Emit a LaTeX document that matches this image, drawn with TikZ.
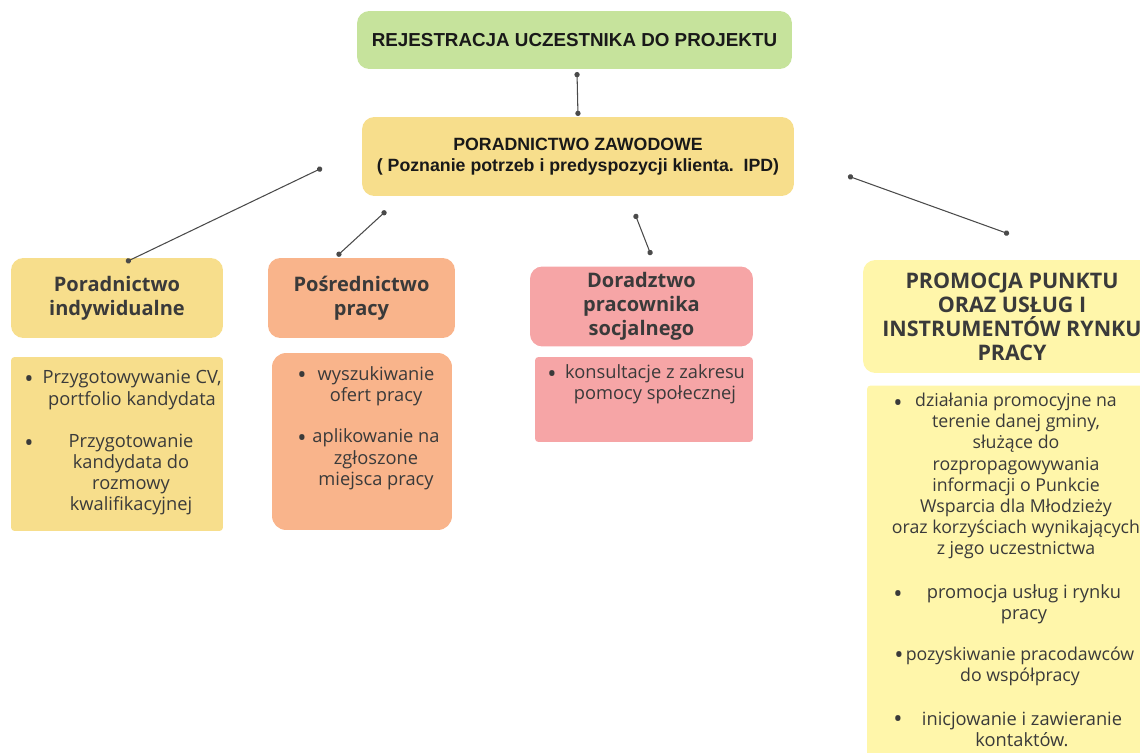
\documentclass[tikz,border=0pt]{standalone}
\usepackage{fontspec}
\setmainfont{Open Sans}
\newfontfamily\headfont{Liberation Sans}
\usetikzlibrary{positioning,arrows.meta}
\definecolor{regGreen}{HTML}{C6E39C}
\definecolor{zawYellow}{HTML}{F7DE8C}
\definecolor{posOrange}{HTML}{F9B48B}
\definecolor{dorPink}{HTML}{F6A5A6}
\definecolor{proYellow}{HTML}{FFF6AA}
\definecolor{txtGray}{HTML}{3A3A3A}
\definecolor{lineGray}{HTML}{4A4A4A}

\begin{document}
\begin{tikzpicture}[x=0.02cm, y=-0.02cm]
		\tikzstyle{top}=[rectangle, rounded corners=7pt, inner sep=0pt, align=center, text=black!90, font=\headfont\bfseries\fontsize{10.1}{11.9}\selectfont]
		\tikzstyle{head}=[rectangle, rounded corners=7pt, inner sep=0pt, align=center, text=txtGray, font=\bfseries\fontsize{11.4}{13.6}\selectfont]
		\tikzstyle{list}=[rectangle, rounded corners=2pt, inner sep=0pt]
		\tikzstyle{item}=[align=center, inner sep=0pt, text=txtGray, font=\fontsize{10.4}{12.1}\selectfont]
		\tikzstyle{bul}=[inner sep=0pt, text=txtGray, font=\fontsize{14}{14}\selectfont]
		\tikzstyle{connect}=[draw=lineGray, line width=0.6pt, {Circle[length=3pt]}-{Circle[length=3pt]}]
		\useasboundingbox (0,0) rectangle (1140,753);
		
		% top of the tree
		\node[top, fill=regGreen,  minimum width=8.7cm,  minimum height=1.16cm, font=\headfont\bfseries\fontsize{10.7}{12}\selectfont] (reg) at (574.5,40) {REJESTRACJA UCZESTNIKA DO PROJEKTU};
		\node[top, fill=zawYellow, minimum width=8.64cm, minimum height=1.58cm] (zaw) at (578,156.5) {PORADNICTWO ZAWODOWE\\( Poznanie potrzeb i predyspozycji klienta.\ \ IPD)};
		
		% four branches
		\node[head, fill=zawYellow, minimum width=4.24cm, minimum height=1.6cm]  (indyw) at (117,298)   {Poradnictwo\\indywidualne};
		\node[head, fill=posOrange, minimum width=3.74cm, minimum height=1.6cm]  (posr)  at (361.5,298) {Pośrednictwo\\pracy};
		\node[head, fill=dorPink,   minimum width=4.46cm, minimum height=1.6cm]  (dorad) at (641.5,306.5) {Doradztwo\\pracownika\\socjalnego};
		\node[head, fill=proYellow, minimum width=5.96cm, minimum height=2.26cm, font=\bfseries\fontsize{12.2}{13.6}\selectfont] (promo) at (1012,316.5) {PROMOCJA PUNKTU\\ORAZ USŁUG I\\INSTRUMENTÓW RYNKU\\PRACY};
		
		% boxes with the tasks
		\node[list, fill=zawYellow, minimum width=4.24cm, minimum height=3.48cm] (listIndyw) at (117,444) {};
		\node[list, fill=posOrange, minimum width=3.6cm,  minimum height=3.54cm, rounded corners=8pt] (listPosr) at (362,441.5) {};
		\node[list, fill=dorPink,   minimum width=4.36cm, minimum height=1.7cm]  (listDorad) at (644,399.5) {};
		\node[list, fill=proYellow, minimum width=5.86cm, minimum height=7.9cm]  (listPromo) at (1013.5,583) {};
		
		\node[item] (cv)    at (132,390) {Przygotowywanie CV,\\portfolio kandydata};
		\node[item] (rozm)  at (131,474.5) {Przygotowanie\\kandydata do\\rozmowy\\kwalifikacyjnej};
		\node[item] (ofert) at (376,386) {wyszukiwanie\\ofert pracy};
		\node[item] (aplik) at (376,459.5) {aplikowanie na\\zgłoszone\\miejsca pracy};
		\node[item] (kons)  at (655,384.5) {konsultacje z zakresu\\pomocy społecznej};
		\node[item, font=\fontsize{10.1}{12}\selectfont] (dzial) at (1016,476)  {działania promocyjne na\\terenie danej gminy,\\służące do\\rozpropagowywania\\informacji o Punkcie\\Wsparcia dla Młodzieży\\oraz korzyściach wynikających\\z jego uczestnictwa};
		\node[item] (uslug) at (1024,604) {promocja usług i rynku\\pracy};
		\node[item, font=\fontsize{10.1}{12.1}\selectfont] (pracod) at (1020,666) {pozyskiwanie pracodawców\\do współpracy};
		\node[item] (kontak) at (1022,729.5) {inicjowanie i zawieranie\\kontaktów.};
		
		\node[bul] (b1) at (29,382)  {•};
		\node[bul] (b2) at (29,446)  {•};
		\node[bul] (b3) at (302,378) {•};
		\node[bul] (b4) at (302,441) {•};
		\node[bul] (b5) at (552,377) {•};
		\node[bul] (b6) at (898,406) {•};
		\node[bul] (b7) at (898,597) {•};
		\node[bul] (b8) at (899,658) {•};
		\node[bul] (b9) at (898,722) {•};
		
		% loose ends of the connectors
		\coordinate (r1) at (577,72);
		\coordinate (z1) at (578,116);
		\coordinate (z2) at (322,168);
		\coordinate (i1) at (126,262);
		\coordinate (z3) at (386,211);
		\coordinate (p1) at (337,256);
		\coordinate (z4) at (635,214);
		\coordinate (d1) at (651,255);
		\coordinate (z5) at (848,176);
		\coordinate (m1) at (1009,234);
		
		\path
		(r1) edge [connect] (z1)
		(z2) edge [connect] (i1)
		(z3) edge [connect] (p1)
		(z4) edge [connect] (d1)
		(z5) edge [connect] (m1)
		;
		
\end{tikzpicture}
\end{document}
